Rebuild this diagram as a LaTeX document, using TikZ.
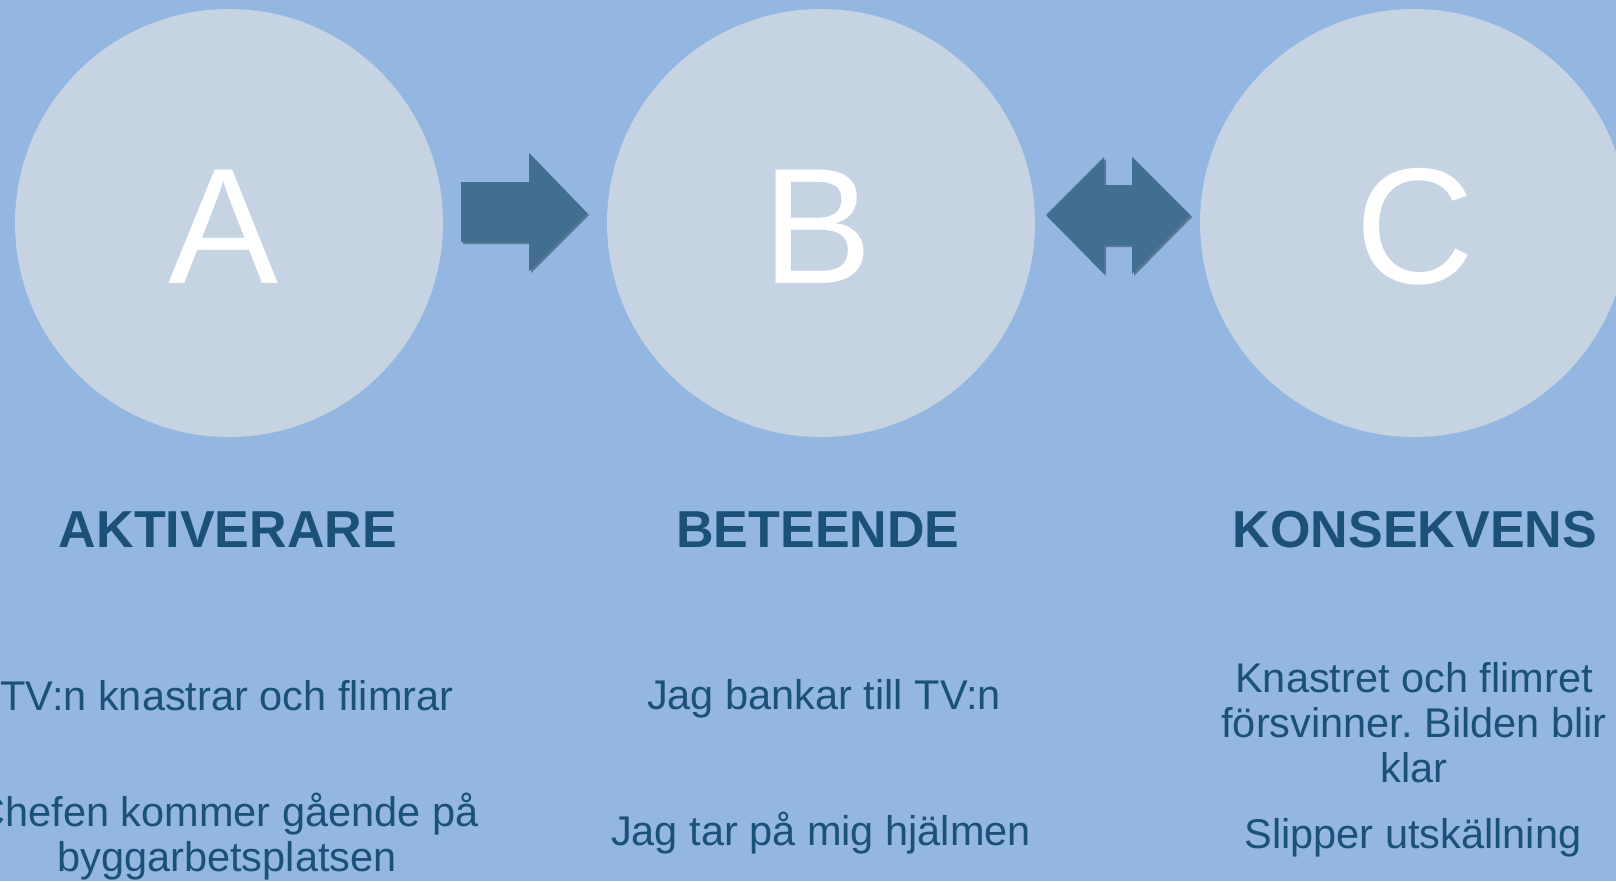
\documentclass[tikz,border=0pt]{standalone}
\usepackage{fontspec}
\setmainfont{Liberation Sans}
\frenchspacing
\definecolor{bgblue}{HTML}{93B7E1}
\definecolor{circfill}{HTML}{C5D3E3}
\definecolor{arrowblue}{HTML}{426E8F}
\definecolor{shadowblue}{HTML}{2E4E6A}
\definecolor{textblue}{HTML}{1B5079}
\tikzset{
  bigcirc/.style={circle, fill=circfill, minimum size=428pt, inner sep=0pt},
  letter/.style={text=white, anchor=base, inner sep=0pt, font=\fontsize{165}{165}\selectfont},
  heading/.style={text=textblue, anchor=base, inner sep=0pt, font=\fontsize{52}{52}\selectfont\bfseries},
  bodytext/.style={text=textblue, anchor=base, inner sep=0pt, align=center, font=\fontsize{41.5}{45}\selectfont},
  blockarrow/.style={fill=arrowblue},
  arrowshadow/.style={fill=shadowblue, opacity=0.6}
}
\begin{document}
\begin{tikzpicture}[x=1pt,y=-1pt]
\fill[bgblue] (0,0) rectangle (1616,881);
\useasboundingbox (0,0) rectangle (1616,881);
\begin{scope}
\clip (0,0) rectangle (1616,881);
% circles
\node[bigcirc] (circA) at (229,223) {};
\node[bigcirc] (circB) at (821,223) {};
\node[bigcirc] (circC) at (1414,223) {};
\node[letter] (letA) at (224,283) {A};
\node[letter] (letB) at (818,283) {B};
\node[letter] (letC) at (1415,283) {C};
% single arrow A -> B
\coordinate (a1) at (461,212);
\path[arrowshadow] ([shift={(2,2)}]a1) ++(0,-30) -- ++(68,0) -- ++(0,-29) -- ++(58,60) -- ++(-58,58) -- ++(0,-29) -- ++(-68,0) -- cycle;
\path[blockarrow] (a1) ++(0,-30) -- ++(68,0) -- ++(0,-29) -- ++(58,60) -- ++(-58,58) -- ++(0,-29) -- ++(-68,0) -- cycle;
% double arrow B <-> C
\coordinate (a2) at (1046,215);
\path[arrowshadow] ([shift={(2,2)}]a2) -- ++(58,-58) -- ++(0,28) -- ++(28,0) -- ++(0,-28) -- ++(58,58) -- ++(-58,59) -- ++(0,-29) -- ++(-28,0) -- ++(0,29) -- cycle;
\path[blockarrow] (a2) -- ++(58,-58) -- ++(0,28) -- ++(28,0) -- ++(0,-28) -- ++(58,58) -- ++(-58,59) -- ++(0,-29) -- ++(-28,0) -- ++(0,29) -- cycle;
% headings
\node[heading] (hA) at (228,547) {AKTIVERARE};
\node[heading] (hB) at (818,547) {BETEENDE};
\node[heading] (hC) at (1415,547) {KONSEKVENS};
% column A
\node[bodytext] (tA1) at (227,710) {TV:n knastrar och flimrar};
\node[bodytext] (tA2) at (227,826) {Chefen kommer gående på};
\node[bodytext] (tA3) at (227,871) {byggarbetsplatsen};
% column B
\node[bodytext] (tB1) at (824,709) {Jag bankar till TV:n};
\node[bodytext] (tB2) at (821,845) {Jag tar på mig hjälmen};
% column C
\node[bodytext] (tC1) at (1414,692) {Knastret och flimret};
\node[bodytext] (tC2) at (1414,737) {försvinner. Bilden blir};
\node[bodytext] (tC3) at (1414,782) {klar};
\node[bodytext] (tC4) at (1413,848) {Slipper utskällning};
\end{scope}
\end{tikzpicture}
\end{document}
